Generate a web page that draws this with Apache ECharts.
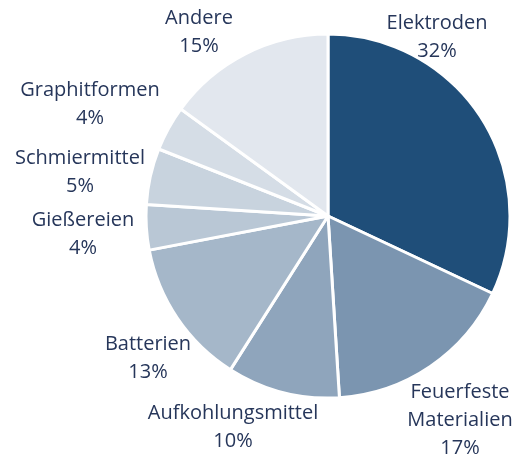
<!DOCTYPE html>
<html lang="de">
<head>
    <meta charset="UTF-8">
    <title>Graphit Anwendungen</title>
    <script src="https://cdn.jsdelivr.net/npm/echarts@6/dist/echarts.min.js"></script>
    <style>
        body { margin: 0; background: #fff; }
    </style>
</head>
<body>
    <div id="main" style="width: 523px;height:459px;"></div>
    <script type="text/javascript">
        // Anteile in Prozent
        const categories = ['Elektroden', 'Feuerfeste Materialien', 'Aufkohlungsmittel', 'Batterien',
            'Gießereien', 'Schmiermittel', 'Graphitformen', 'Andere'];
        const shares = [32, 17, 10, 13, 4, 5, 4, 15];

        const colors = ['#1f4e79', '#7b95b0', '#8fa5bc', '#a5b7c9', '#b9c7d5', '#c8d3de', '#d5dde6', '#e2e7ee'];
        // label centres, like the excel "best fit" placement
        const labelPos = [[437, 37], [460, 420], [233, 427], [148, 358], [83, 234], [80, 172], [90, 104], [199, 32]];

        let myChart = echarts.init(document.getElementById('main'));

        let options = {
            animation: false,
            series: [{
                type: 'pie',
                center: [328, 216],
                radius: 182,
                startAngle: 90,
                clockwise: true,
                data: categories.map((name, i) => ({
                    name: name,
                    value: shares[i],
                    itemStyle: { color: colors[i] }
                })),
                itemStyle: { borderColor: '#fff', borderWidth: 3 },
                label: {
                    show: true,
                    position: 'outside',
                    alignTo: 'none',
                    overflow: 'none',
                    formatter: p => p.name.replace(' ', '\n') + '\n' + p.value + '%',
                    fontFamily: 'Open Sans',
                    fontSize: 20,
                    lineHeight: 28,
                    color: '#26365a',
                    align: 'center'
                },
                labelLine: { show: false },
                labelLayout: function (params) {
                    const p = labelPos[params.dataIndex];
                    return { x: p[0], y: p[1], align: 'center', verticalAlign: 'middle', width: 300 };
                }
            }]
        };

        myChart.setOption(options);
    </script>
</body>
</html>
